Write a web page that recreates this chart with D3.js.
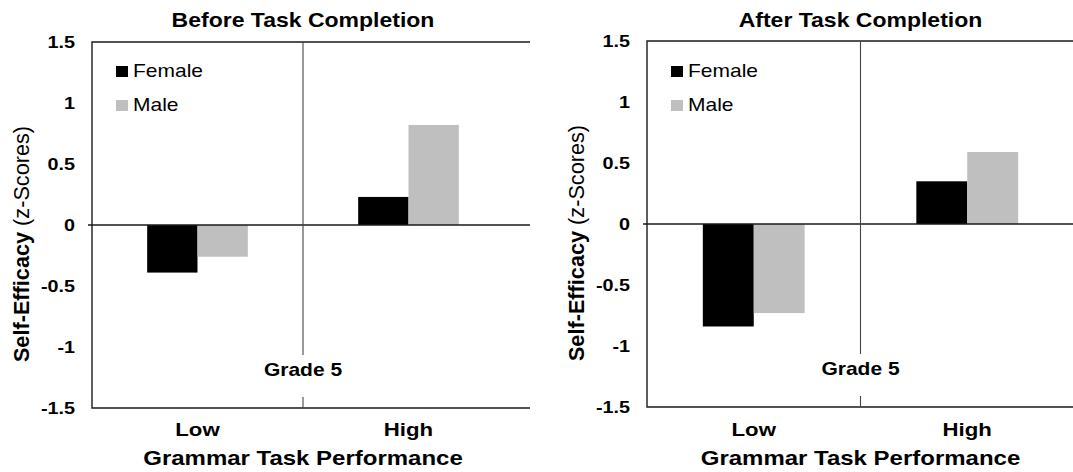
<!DOCTYPE html>
<html>
<head>
<meta charset="utf-8">
<script src="https://cdn.jsdelivr.net/npm/d3@7"></script>
<style>
  body { margin: 0; background: #fff; }
  text { font-family: "Liberation Sans", Arial, sans-serif; fill: #000; }
</style>
</head>
<body>
<svg id="chart" width="1073" height="472"></svg>
<script>
// chart values
const categories = ["Low", "High"];
const seriesNames = ["Female", "Male"];
const seriesColors = ["#000000", "#bfbfbf"];
const beforeFemale = [-0.39, 0.23];
const beforeMale = [-0.26, 0.82];
const afterFemale = [-0.84, 0.35];
const afterMale = [-0.73, 0.59];
const yTicks = [1.5, 1, 0.5, 0, -0.5, -1, -1.5];
const panelTitles = ["Before Task Completion", "After Task Completion"];

const svg = d3.select("#chart");
const sx = 1.2; // most text in the reference is a little wider than Arial

function stretchedText(g, x, y, str, k) {
    return g.append("text")
        .attr("transform", `translate(${x},${y}) scale(${k || sx},1)`)
        .text(str);
}

function drawPanel(opts) {
    const g = svg.append("g");
    const left = opts.left, top = opts.top, bottom = opts.bottom;
    const band = opts.band;

    const y = d3.scaleLinear().domain([-1.5, 1.5]).range([bottom, top]);
    const x0 = d3.scaleBand().domain(categories)
        .range([left, left + 2 * band])
        .paddingInner(0.523).paddingOuter(0.2615);
    const x1 = d3.scaleBand().domain(seriesNames).range([0, x0.bandwidth()]);

    const rows = categories.map((c, i) => ({
        cat: c,
        vals: [opts.female[i], opts.male[i]]
    }));

    // bars
    rows.forEach(r => {
        g.selectAll(null)
            .data(seriesNames.map((s, j) => ({ s: s, v: r.vals[j], c: seriesColors[j] })))
            .enter().append("rect")
            .attr("x", d => x0(r.cat) + x1(d.s))
            .attr("y", d => y(Math.max(0, d.v)))
            .attr("width", x1.bandwidth())
            .attr("height", d => Math.abs(y(d.v) - y(0)))
            .attr("fill", d => d.c);
    });

    // frame
    g.append("path")
        .attr("d", `M${opts.right},${top}H${left}V${bottom}H${opts.right}`)
        .attr("fill", "none").attr("stroke", "#1a1a1a").attr("stroke-width", 1.4);
    // zero line
    g.append("line")
        .attr("x1", left - 4).attr("x2", opts.right)
        .attr("y1", y(0)).attr("y2", y(0))
        .attr("stroke", "#1a1a1a").attr("stroke-width", 1.4);
    // divider between categories, broken by the grade label
    const mid = left + band;
    g.append("line")
        .attr("x1", mid).attr("x2", mid)
        .attr("y1", top).attr("y2", bottom)
        .attr("stroke", "#444").attr("stroke-width", 1.1);
    g.append("rect")
        .attr("x", mid - 10).attr("y", y(-1.0) + 8)
        .attr("width", 20).attr("height", 42)
        .attr("fill", "#fff");
    stretchedText(g, mid, y(-1.5) - 32, "Grade 5")
        .attr("text-anchor", "middle")
        .style("font-weight", "bold").style("font-size", "17.5px");

    // y tick labels
    yTicks.forEach(t => {
        stretchedText(g, left - 17, y(t) + 6, d3.format("")(t).replace("−", "-"))
            .attr("text-anchor", "end")
            .style("font-weight", "bold").style("font-size", "16.5px");
    });

    // category labels
    categories.forEach(c => {
        stretchedText(g, x0(c) + x0.bandwidth() / 2, 436, c)
            .attr("text-anchor", "middle")
            .style("font-weight", "bold").style("font-size", "18.5px");
    });
    stretchedText(g, mid, 465, "Grammar Task Performance")
        .attr("text-anchor", "middle")
        .style("font-weight", "bold").style("font-size", "20px");

    // title
    stretchedText(g, mid, 27, opts.title, 1.18)
        .attr("text-anchor", "middle")
        .style("font-weight", "bold").style("font-size", "19.5px");

    // y axis title
    const yt = g.append("text")
        .attr("transform", `translate(${opts.yTitleX},${y(0) + 19}) rotate(-90)`)
        .attr("text-anchor", "middle")
        .style("font-size", "21.7px");
    yt.append("tspan").style("font-weight", "bold").text("Self-Efficacy");
    yt.append("tspan").text(" (z-Scores)");

    // legend
    seriesNames.forEach((s, j) => {
        const ly = 77 + j * 34;
        g.append("rect")
            .attr("x", left + 24).attr("y", ly - 11)
            .attr("width", 12).attr("height", 11)
            .attr("fill", seriesColors[j]);
        stretchedText(g, left + 41, ly, s).style("font-size", "17.5px");
    });
}

drawPanel({
    left: 92, right: 530, top: 42, bottom: 408, band: 211,
    female: beforeFemale, male: beforeMale,
    title: panelTitles[0], yTitleX: 29
});
drawPanel({
    left: 647, right: 1080, top: 41, bottom: 407, band: 213.5,
    female: afterFemale, male: afterMale,
    title: panelTitles[1], yTitleX: 584
});
</script>
</body>
</html>
